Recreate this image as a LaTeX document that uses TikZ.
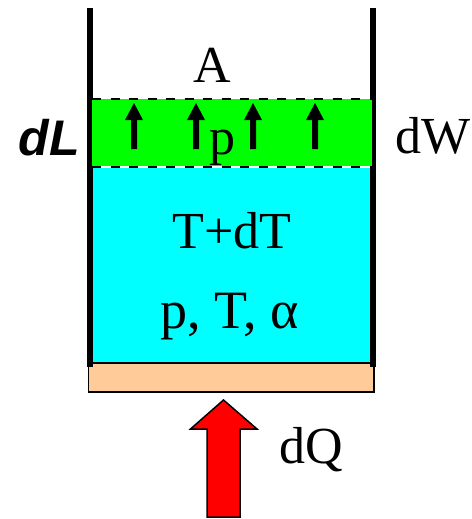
\documentclass[tikz,border=0pt]{standalone}
\usepackage{fontspec}
\setmainfont{Liberation Serif}
\newfontfamily\dlfont{Liberation Sans}
\definecolor{plate}{RGB}{255,204,153}
\definecolor{fluid}{RGB}{0,255,255}
\definecolor{piston}{RGB}{0,255,0}
\definecolor{heat}{RGB}{255,0,0}
\begin{document}
\begin{tikzpicture}[x=1pt,y=-1pt,
  lab/.style={anchor=base,inner sep=0pt,font=\fontsize{52}{52}\selectfont},
  wall/.style={line width=6.2pt,line cap=butt,black},
  dashline/.style={line width=1.5pt,dash pattern=on 9pt off 9.5pt,black},
  uparrow/.style={fill=black,draw=none}]
\useasboundingbox (0,0) rectangle (471,519);
% fluid
\fill[fluid] (92,168) rectangle (370,363);
% base plate
\draw[fill=plate,line width=1.5pt] (88.5,363) rectangle (374,392);
% walls
\coordinate (lt) at (90,8); \coordinate (lb) at (90,367);
\coordinate (rt) at (373,8); \coordinate (rb) at (373,367);
\draw[wall] (lt) -- (lb);
\draw[wall] (rt) -- (rb);
% piston layer
\fill[piston] (92,99) rectangle (372,165.5);
\draw[dashline] (92,99) -- (372,99);
\draw[dashline] (92,167) -- (372,167);
\draw[dashline] (91.5,99) -- (91.5,167);
% small arrows
\foreach \x in {134,196,253,315}
  \fill[uparrow] (\x-3,149) -- (\x-3,120) -- (\x-9,120) -- (\x,103) -- (\x+9,120) -- (\x+3,120) -- (\x+3,149) -- cycle;
% heat arrow
\draw[fill=heat,line width=1.5pt,line join=miter] (207,517) -- (207,429) -- (190.5,429) -- (223.5,400) -- (257,429) -- (240,429) -- (240,517) -- cycle;
% labels
\node[lab] (a) at (212,82) {A};
\node[lab] (p) at (222,154) {p};
\node[lab] (tdt) at (232,248) {T+dT};
\node[lab,font=\fontsize{54}{54}\selectfont] (state) at (230,328) {p, T, α};
\node[lab] (dq) at (311,463) {dQ};
\node[lab] (dw) at (433,153) {dW};
\node[lab,font=\dlfont\bfseries\itshape\fontsize{50}{50}\selectfont] (dl) at (49,155) {dL};
\end{tikzpicture}
\end{document}
